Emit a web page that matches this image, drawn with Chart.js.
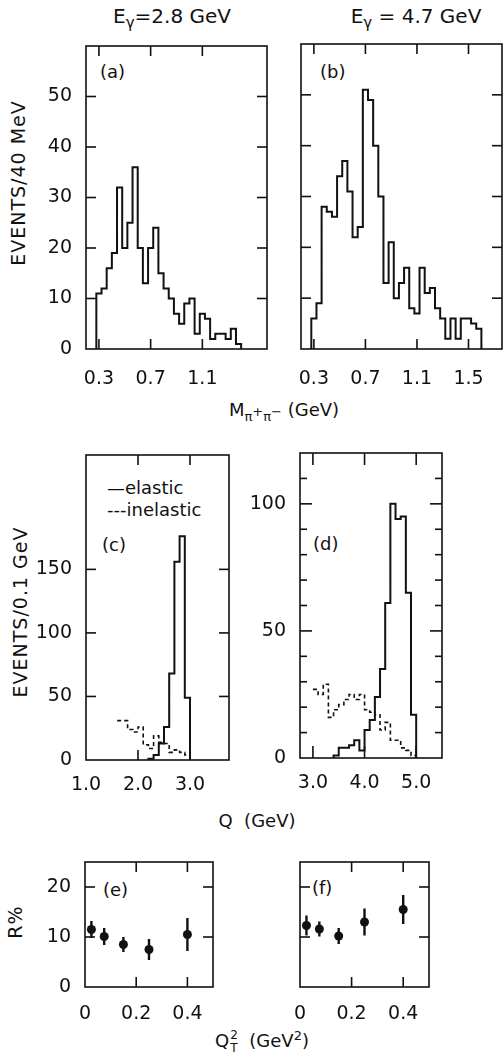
<!DOCTYPE html>
<html>
<head>
<meta charset="utf-8">
<script src="https://cdn.jsdelivr.net/npm/chart.js@4.4.1/dist/chart.umd.min.js"></script>
<style>
html, body { margin: 0; background: #fff; }
body { position: relative; width: 503px; height: 1061px; overflow: hidden;
       font-family: "DejaVu Sans", sans-serif; color: #111; }
canvas { position: absolute; }
.t { position: absolute; white-space: nowrap; font-size: 18px; line-height: 1;
     transform: translate(-50%, -50%); }
.h { font-size: 20px; }
.l { transform: translate(0, -50%); }
.r90 { transform: translate(-50%, -50%) rotate(-90deg); font-size: 19px; letter-spacing: 1px; }
sub, sup { font-size: 13px; line-height: 0; }
.h sub { font-size: 15px; }
.ss { display: inline-block; vertical-align: middle; font-size: 12px; line-height: 1.05; margin-left: 1px; }
.ss span { display: block; }
</style>
</head>
<body>

<div class="t h" style="left:172px;top:16px">E<sub>γ</sub>=2.8 GeV</div>
<div class="t h" style="left:416px;top:16px">E<sub>γ</sub> = 4.7 GeV</div>
<div class="t r90" style="left:18px;top:183px">EVENTS/40 MeV</div>
<div class="t l" style="left:100px;top:72px">(a)</div>
<div class="t l" style="left:320px;top:72px">(b)</div>
<div class="t" style="left:284px;top:410px">M<sub>π<sup>+</sup>π<sup>−</sup></sub> (GeV)</div>

<div class="t r90" style="left:20px;top:612px">EVENTS/0.1 GeV</div>
<div class="t l" style="left:107px;top:488px">—elastic</div>
<div class="t l" style="left:107px;top:510px">---inelastic</div>
<div class="t l" style="left:102px;top:545px">(c)</div>
<div class="t l" style="left:313px;top:544px">(d)</div>
<div class="t" style="left:257px;top:821px">Q&nbsp;&nbsp;(GeV)</div>

<div class="t r90" style="left:15px;top:922px">R%</div>
<div class="t l" style="left:103px;top:890px">(e)</div>
<div class="t l" style="left:312px;top:888px">(f)</div>
<div class="t" style="left:262px;top:1042px">Q<span class="ss"><span>2</span><span>T</span></span>&nbsp;&nbsp;(GeV<sup>2</sup>)</div>

<script>
// pi+pi- mass spectra, 40 MeV bins starting at 0.28 GeV
const massBinStart = 0.28;
const massBinWidth = 0.04;
const eventsA = [11, 12, 16, 19, 32, 20, 25, 36, 20, 13, 20, 24, 15, 12,
                 10, 7, 5, 9, 10, 3, 7, 6, 2, 3, 3, 2, 4, 1];
const eventsB = [6, 9, 28, 27, 26, 34, 37, 31, 22, 24, 51, 49, 40, 30, 13, 21, 10,
                 13, 16, 8, 7, 16, 11, 12, 8, 6, 2, 6, 2, 6, 6, 5, 4];

// Q spectra, 0.1 GeV bins
const qBinWidth = 0.1;
const elasticStartC = 2.2;
const elasticC = [1, 4, 13, 26, 68, 156, 176, 49];
const inelasticStartC = 1.6;
const inelasticC = [31, 31, 24, 22, 26, 12, 9, 19, 14, 13, 6, 8, 6, 4];
const elasticStartD = 3.4;
const elasticD = [1, 4, 4, 5, 7, 3, 11, 15, 24, 35, 61, 100, 94, 95, 65, 17];
const inelasticStartD = 3.0;
const inelasticD = [27, 25, 29, 16, 19, 21, 23, 25, 23, 25, 19, 18, 17, 11, 14, 7, 7, 4, 3, 1];

// R% against Q_T^2
const qt2 = [0.025, 0.075, 0.15, 0.25, 0.40];
const ratioE = [11.5, 10.1, 8.5, 7.5, 10.5];
const ratioErrE = [1.7, 1.7, 1.5, 2.1, 3.3];
const ratioF = [12.3, 11.6, 10.2, 13.0, 15.5];
const ratioErrF = [2.0, 1.5, 1.6, 2.7, 2.9];

// tick values and labels
const massTicksA = [0.3, 0.7, 1.1];
const massTicksB = [0.3, 0.7, 1.1, 1.5];
const massLabelsA = ['0.3', '0.7', '1.1'];
const massLabelsB = ['0.3', '0.7', '1.1', '1.5'];
const countTicksAB = [0, 10, 20, 30, 40, 50];
const countLabelsAB = ['0', '10', '20', '30', '40', '50'];
const qTicksC = [1.0, 2.0, 3.0];
const qLabelsC = ['1.0', '2.0', '3.0'];
const qTicksD = [3.0, 4.0, 5.0];
const qLabelsD = ['3.0', '4.0', '5.0'];
const countTicksC = [0, 50, 100, 150];
const countLabelsC = ['0', '50', '100', '150'];
const countTicksD = [0, 10, 20, 30, 40, 50, 60, 70, 80, 90, 100, 110];
const countLabelsD = ['0', '', '', '', '', '50', '', '', '', '', '100', ''];
const qt2Ticks = [0, 0.2, 0.4];
const qt2Labels = ['0', '0.2', '0.4'];
const ratioTicks = [0, 10, 20];
const ratioLabels = ['0', '10', '20'];

Chart.defaults.font.family = '"DejaVu Sans", sans-serif';
Chart.defaults.font.size = 19;
Chart.defaults.color = '#111';

const INK = '#111';
const LW = 1.6;

// box around the plot area with inward tick marks on all four sides
const frameTicks = {
  id: 'frameTicks',
  afterDraw(chart, args, opts) {
    const { ctx, chartArea: a } = chart;
    const x = chart.scales.x, y = chart.scales.y;
    const len = opts.len || 10;
    ctx.save();
    ctx.setLineDash([]);
    ctx.strokeStyle = INK;
    ctx.fillStyle = INK;
    ctx.lineWidth = LW;
    ctx.strokeRect(a.left, a.top, a.right - a.left, a.bottom - a.top);
    x.ticks.forEach(t => {
      const px = x.getPixelForValue(t.value);
      if (px < a.left + 2 || px > a.right - 2) return;
      ctx.fillRect(px - LW / 2, a.bottom - len, LW, len);
      ctx.fillRect(px - LW / 2, a.top, LW, len);
    });
    y.ticks.forEach(t => {
      const py = y.getPixelForValue(t.value);
      if (py > a.bottom - 2 || py < a.top + 2) return;
      const l = opts.major && t.value % opts.major ? opts.minorLen : len;
      ctx.fillRect(a.left, py - LW / 2, l, LW);
      ctx.fillRect(a.right - l, py - LW / 2, l, LW);
    });
    ctx.restore();
  }
};

// outline of a histogram; closed ones drop to zero at both ends
function steps(start, width, counts, closed) {
  const pts = counts.map((c, i) => ({ x: start + i * width, y: c }));
  pts.push({ x: start + counts.length * width, y: closed ? 0 : counts[counts.length - 1] });
  if (closed) pts.unshift({ x: start, y: 0 });
  return pts;
}

function histLine(points, dashed) {
  return {
    data: points, stepped: true, borderColor: INK, borderWidth: dashed ? 1.6 : 2,
    borderDash: dashed ? [4, 3] : [], pointRadius: 0, fill: false
  };
}

function errorBars(xs, ys, errs) {
  const pts = [];
  xs.forEach((x, i) => {
    pts.push({ x, y: ys[i] - errs[i] }, { x, y: ys[i] + errs[i] }, { x, y: null });
  });
  return { data: pts, borderColor: INK, borderWidth: 2.4, pointRadius: 0, spanGaps: false };
}

function markers(xs, ys) {
  return {
    data: xs.map((x, i) => ({ x, y: ys[i] })), showLine: false,
    pointRadius: 4.5, pointBackgroundColor: INK, pointBorderWidth: 0
  };
}

function axis(spec, dir, size) {
  return {
    type: 'linear', min: spec.min, max: spec.max,
    grid: { display: false, drawTicks: false },
    border: { display: false },
    afterBuildTicks: s => { s.ticks = spec.ticks.map(v => ({ value: v })); },
    // fixed axis box, and no extra room reserved for edge labels
    afterFit: s => {
      if (dir === 'x') s.height = size; else s.width = size;
      s.paddingTop = s.paddingBottom = s.paddingLeft = s.paddingRight = 0;
    },
    ticks: {
      display: !!spec.labels, padding: spec.pad, autoSkip: false, maxRotation: 0,
      callback: (v, i) => (spec.labels ? spec.labels[i] : '')
    }
  };
}

function panel(frame, xs, ys, datasets, tickOpts) {
  const padL = 80, padT = 15, padR = 15, padB = 45;
  const cv = document.createElement('canvas');
  cv.width = frame.r - frame.l + padL + padR;
  cv.height = frame.b - frame.t + padT + padB;
  cv.style.left = (frame.l - padL) + 'px';
  cv.style.top = (frame.t - padT) + 'px';
  document.body.appendChild(cv);
  return new Chart(cv, {
    type: 'line',
    data: { datasets },
    options: {
      responsive: false, animation: false, events: [],
      layout: { padding: { left: 0, top: padT, right: padR, bottom: 0 } },
      plugins: { legend: { display: false }, tooltip: { enabled: false }, frameTicks: tickOpts || {} },
      scales: { x: axis(xs, 'x', padB), y: axis(ys, 'y', padL) }
    },
    plugins: [frameTicks]
  });
}

// (a) E_gamma = 2.8 GeV mass spectrum
panel({ l: 86, t: 46, r: 267, b: 349 },
  { min: 0.2, max: 1.6, ticks: massTicksA, labels: massLabelsA, pad: 19 },
  { min: 0, max: 60, ticks: countTicksAB, labels: countLabelsAB, pad: 14 },
  [histLine(steps(massBinStart, massBinWidth, eventsA, true))]);

// (b) E_gamma = 4.7 GeV mass spectrum
panel({ l: 301, t: 44, r: 502, b: 349 },
  { min: 0.2, max: 1.76, ticks: massTicksB, labels: massLabelsB, pad: 19 },
  { min: 0, max: 60, ticks: countTicksAB, pad: 14 },
  [histLine(steps(massBinStart, massBinWidth, eventsB, true))]);

// (c) Q spectra at 2.8 GeV
panel({ l: 86, t: 455, r: 229, b: 760 },
  { min: 1.0, max: 3.75, ticks: qTicksC, labels: qLabelsC, pad: 14 },
  { min: 0, max: 240, ticks: countTicksC, labels: countLabelsC, pad: 14 },
  [histLine(steps(elasticStartC, qBinWidth, elasticC, true)),
   histLine(steps(inelasticStartC, qBinWidth, inelasticC, false), true)]);

// (d) Q spectra at 4.7 GeV
panel({ l: 300, t: 453, r: 442, b: 758 },
  { min: 2.75, max: 5.5, ticks: qTicksD, labels: qLabelsD, pad: 14 },
  { min: 0, max: 120, ticks: countTicksD, labels: countLabelsD, pad: 14 },
  [histLine(steps(elasticStartD, qBinWidth, elasticD, true)),
   histLine(steps(inelasticStartD, qBinWidth, inelasticD, false), true)],
  { major: 50, minorLen: 7, len: 12 });

// (e) R% at 2.8 GeV
panel({ l: 85, t: 862, r: 213, b: 987 },
  { min: 0, max: 0.5, ticks: qt2Ticks, labels: qt2Labels, pad: 16 },
  { min: 0, max: 25, ticks: ratioTicks, labels: ratioLabels, pad: 14 },
  [errorBars(qt2, ratioE, ratioErrE), markers(qt2, ratioE)]);

// (f) R% at 4.7 GeV
panel({ l: 300, t: 862, r: 429, b: 987 },
  { min: 0, max: 0.5, ticks: qt2Ticks, labels: qt2Labels, pad: 16 },
  { min: 0, max: 25, ticks: ratioTicks, pad: 14 },
  [errorBars(qt2, ratioF, ratioErrF), markers(qt2, ratioF)]);
</script>
</body>
</html>
